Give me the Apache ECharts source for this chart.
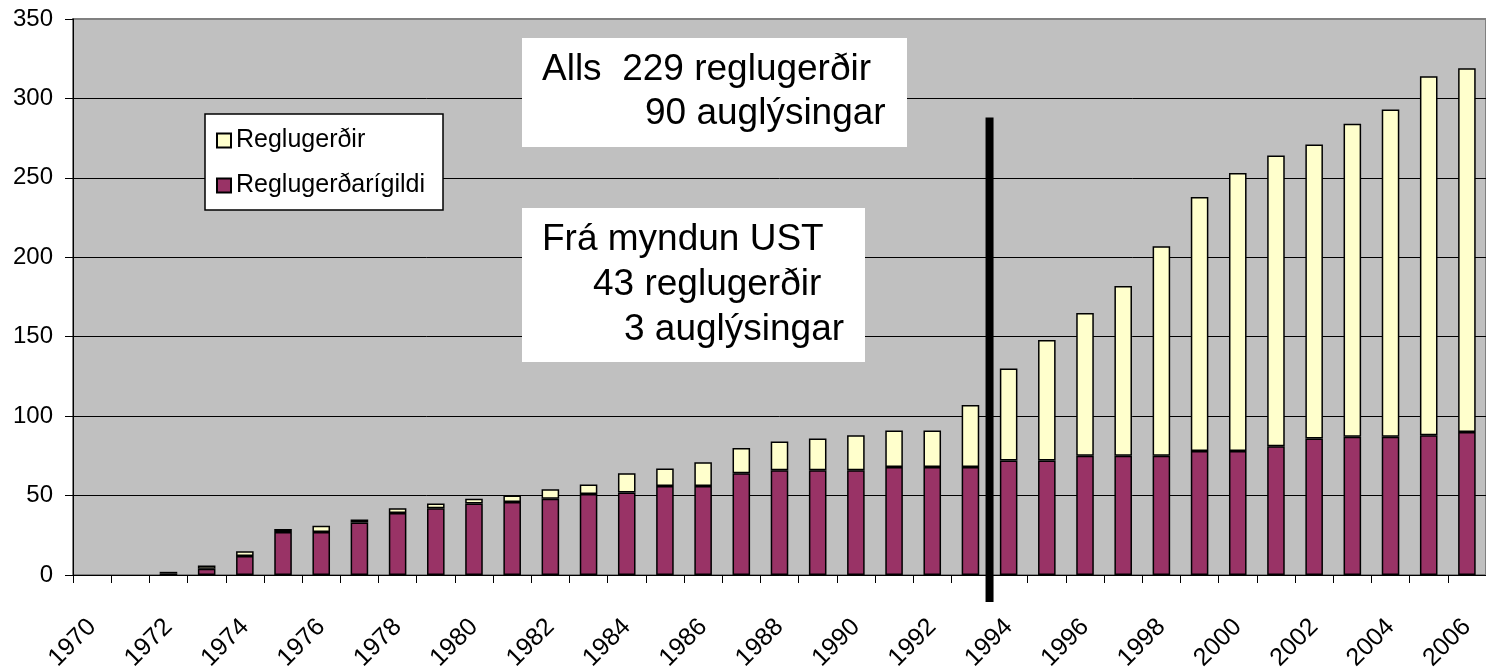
<!DOCTYPE html>
<html>
<head>
<meta charset="utf-8">
<script src="https://cdn.jsdelivr.net/npm/echarts@6/dist/echarts.min.js"></script>
<style>
html,body{margin:0;padding:0;background:#fff;}
#c{width:1486px;height:672px;}
</style>
</head>
<body>
<div id="c"></div>
<script>
const years = ['1970','1971','1972','1973','1974','1975','1976','1977','1978','1979','1980','1981','1982','1983','1984','1985','1986','1987','1988','1989','1990','1991','1992','1993','1994','1995','1996','1997','1998','1999','2000','2001','2002','2003','2004','2005','2006'];
const igildi = [0,0,1,4,12,27,27,33,39,42,45,46,48,51,52,56,56,64,66,66,66,68,68,68,72,72,75,75,75,78,78,81,86,87,87,88,90];
const reglugerdir = [0,0,1,2,3,2,4,2,3,3,3,4,6,6,12,11,15,16,18,20,22,23,23,39,58,76,90,107,132,160,175,183,185,197,206,226,229];
const yTicks = [0,50,100,150,200,250,300,350];
const noteTop = ['Alls  229 reglugerðir', '90 auglýsingar'];
const noteMid = ['Frá myndun UST', '43 reglugerðir', '3 auglýsingar'];
const dividerBetween = ['1993','1994'];
const dividerTopValue = 288;

const FONT = "'Liberation Sans', Arial, sans-serif";
const chart = echarts.init(document.getElementById('c'), null, {renderer:'canvas'});

const splitColors = yTicks.map((t,i)=> i===yTicks.length-1 ? '#808080' : '#000000');
const nz = v => (v === 0 ? null : v);

chart.setOption({
  animation:false,
  backgroundColor:'#ffffff',
  textStyle:{fontFamily:FONT},
  grid:{left:73, top:19, right:0, bottom:97, containLabel:false, outerBoundsMode:'none', show:true, backgroundColor:'#C0C0C0', borderColor:'#808080', borderWidth:2},
  legend:{
    data:['Reglugerðir','Reglugerðarígildi'],
    orient:'vertical', left:205, top:114,
    backgroundColor:'#ffffff', borderColor:'#000000', borderWidth:1.5,
    padding:[14,18,12,11], itemGap:20, itemWidth:14, itemHeight:14,
    icon:'rect',
    textStyle:{fontFamily:FONT, fontSize:25, color:'#000'}
  },
  xAxis:{
    type:'category', data:years, boundaryGap:true,
    axisLine:{lineStyle:{color:'#000', width:1}},
    axisTick:{show:true, alignWithLabel:false, interval:0, length:8, lineStyle:{color:'#000'}},
    axisLabel:{interval:1, rotate:45, fontSize:25, color:'#000', fontFamily:FONT, margin:48}
  },
  yAxis:{
    type:'value', min:0, max:350, interval:50,
    axisLine:{show:true, lineStyle:{color:'#000', width:1}},
    axisTick:{show:true, length:8, lineStyle:{color:'#000'}},
    axisLabel:{fontSize:24, color:'#000', fontFamily:FONT, margin:20},
    splitLine:{show:true, lineStyle:{color:splitColors, width:1}}
  },
  series:[
    {name:'Reglugerðarígildi', type:'bar', stack:'a', data:igildi.map(nz), barWidth:'46%',
     itemStyle:{color:'#993366', borderColor:'#000', borderWidth:1.5}},
    {name:'Reglugerðir', type:'bar', stack:'a', data:reglugerdir.map(nz), barWidth:'46%',
     itemStyle:{color:'#FFFFCC', borderColor:'#000', borderWidth:1.5}}
  ]
});

function textLines(lines, xs, ys, size){
  return lines.map((t,i)=>({type:'text', x:xs[i], y:ys[i], z:11, style:{text:t, fontSize:size, fontFamily:FONT, fill:'#000', verticalAlign:'middle'}}));
}

const p1 = chart.convertToPixel({xAxisIndex:0}, dividerBetween[0]);
const p2 = chart.convertToPixel({xAxisIndex:0}, dividerBetween[1]);
const divX = (p1+p2)/2;
const divTop = chart.convertToPixel({yAxisIndex:0}, dividerTopValue);
const base = chart.convertToPixel({yAxisIndex:0}, 0);

chart.setOption({
  graphic:[
    {type:'rect', shape:{x:522,y:38,width:385,height:109}, style:{fill:'#fff'}, z:10},
    ...textLines(noteTop,[542,645],[70,114],37),
    {type:'rect', shape:{x:522,y:208,width:343,height:154}, style:{fill:'#fff'}, z:10},
    ...textLines(noteMid,[542,593,624],[240,285,330],37),
    {type:'rect', shape:{x:divX-4, y:divTop, width:8, height:base+27-divTop}, style:{fill:'#000'}, z:12}
  ]
});
</script>
</body>
</html>
